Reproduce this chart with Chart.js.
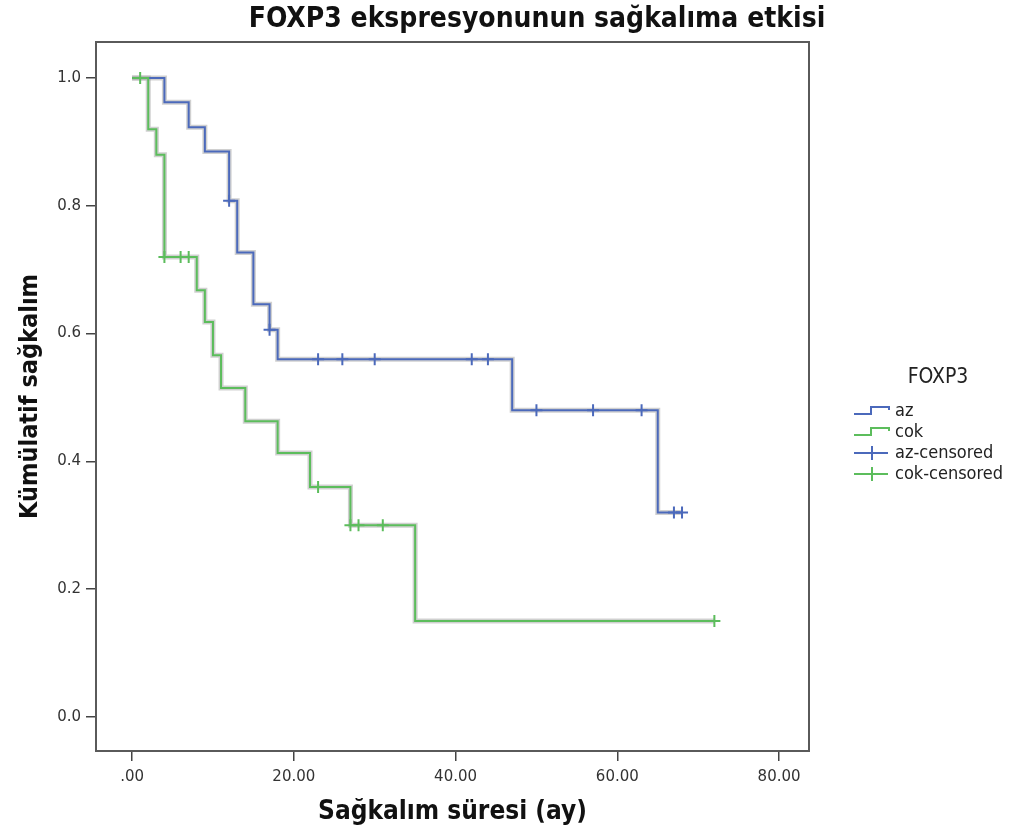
<!DOCTYPE html>
<html lang="tr">
  <head>
    <meta charset="UTF-8" />
    <title>FOXP3 ekspresyonunun sağkalıma etkisi</title>
    <style>
      html,
      body {
        margin: 0;
        padding: 0;
        background: #ffffff;
      }
      #wrap {
        position: relative;
        width: 1025px;
        height: 834px;
      }
    </style>
  </head>
  <body>
    <div id="wrap"><canvas id="kmChart" width="1025" height="834"></canvas></div>

    <script src="https://cdn.jsdelivr.net/npm/chart.js"></script>
    <script>
      // survival steps (time in months, cumulative survival)
      const azTimes = [0, 4, 7, 9, 12, 13, 15, 17, 18, 47, 65, 68];
      const azSurv = [1.0, 0.962, 0.923, 0.885, 0.808, 0.727, 0.646, 0.606, 0.56, 0.48, 0.32, 0.32];
      const cokTimes = [0, 2, 3, 4, 8, 9, 10, 11, 14, 18, 22, 27, 35, 72];
      const cokSurv = [1.0, 0.92, 0.88, 0.72, 0.668, 0.618, 0.566, 0.515, 0.463, 0.413, 0.36, 0.3, 0.15, 0.15];

      // censored observations
      const azCensTimes = [12, 17, 23, 26, 30, 42, 44, 50, 57, 63, 67, 68];
      const azCensSurv = [0.808, 0.606, 0.56, 0.56, 0.56, 0.56, 0.56, 0.48, 0.48, 0.48, 0.32, 0.32];
      const cokCensTimes = [1, 4, 6, 7, 23, 27, 28, 31, 72];
      const cokCensSurv = [1.0, 0.72, 0.72, 0.72, 0.36, 0.3, 0.3, 0.3, 0.15];

      const xTickVals = [0, 20, 40, 60, 80];
      const xTickLabels = [".00", "20.00", "40.00", "60.00", "80.00"];
      const yTickVals = [0, 0.2, 0.4, 0.6, 0.8, 1.0];
      const yTickLabels = ["0.0", "0.2", "0.4", "0.6", "0.8", "1.0"];

      const legendItems = ["az", "cok", "az-censored", "cok-censored"];

      const BLUE = "#4b69bb";
      const GREEN = "#5cbd5c";
      const HALO = "rgba(150, 150, 150, 0.45)";
      const FONT = '"DejaVu Sans", sans-serif';
      const FONT_C = '"DejaVu Sans Condensed", "DejaVu Sans", sans-serif';

      const pts = (xs, ys) => xs.map((x, i) => ({ x: x, y: ys[i] }));

      // frame, title and legend drawn on top of the chart
      const decor = {
        id: "decor",
        afterDraw(chart) {
          const c = chart.ctx;
          const a = chart.chartArea;
          c.save();
          c.strokeStyle = "#5a5a5a";
          c.lineWidth = 2;
          c.strokeRect(a.left, a.top, a.right - a.left, a.bottom - a.top);

          c.fillStyle = "#111";
          c.font = "bold 28px " + FONT_C;
          c.textAlign = "center";
          c.textBaseline = "middle";
          c.fillText("FOXP3 ekspresyonunun sağkalıma etkisi", 537, 20);

          c.font = "21px " + FONT_C;
          c.fillStyle = "#222";
          c.fillText("FOXP3", 938, 378);

          c.textAlign = "left";
          c.font = "18px " + FONT_C;
          const rows = [411, 432, 453, 474];
          const cols = [BLUE, GREEN, BLUE, GREEN];
          legendItems.forEach((txt, i) => {
            const y = rows[i];
            c.strokeStyle = cols[i];
            c.lineWidth = 2;
            c.beginPath();
            if (i < 2) {
              c.moveTo(854, y + 3);
              c.lineTo(871, y + 3);
              c.lineTo(871, y - 4);
              c.lineTo(889, y - 4);
              c.lineTo(889, y - 1);
            } else {
              c.moveTo(854, y);
              c.lineTo(888, y);
              c.moveTo(872, y - 7);
              c.lineTo(872, y + 7);
            }
            c.stroke();
            c.fillStyle = "#222";
            c.fillText(txt, 895, y);
          });
          c.restore();
        },
      };

      const ctx = document.getElementById("kmChart").getContext("2d");

      new Chart(ctx, {
        type: "line",
        data: {
          datasets: [
            {
              label: "cok-censored",
              data: pts(cokCensTimes, cokCensSurv),
              showLine: false,
              pointStyle: "cross",
              pointRadius: 6,
              pointBorderWidth: 2,
              pointBorderColor: GREEN,
              order: 0,
            },
            {
              label: "az-censored",
              data: pts(azCensTimes, azCensSurv),
              showLine: false,
              pointStyle: "cross",
              pointRadius: 6,
              pointBorderWidth: 2,
              pointBorderColor: BLUE,
              order: 1,
            },
            {
              label: "cok",
              data: pts(cokTimes, cokSurv),
              stepped: "before",
              borderColor: GREEN,
              borderWidth: 2,
              pointRadius: 0,
              fill: false,
              order: 2,
            },
            {
              label: "az",
              data: pts(azTimes, azSurv),
              stepped: "before",
              borderColor: BLUE,
              borderWidth: 2,
              pointRadius: 0,
              fill: false,
              order: 3,
            },
            {
              label: "cok-halo",
              data: pts(cokTimes, cokSurv),
              stepped: "before",
              borderColor: HALO,
              borderWidth: 5,
              pointRadius: 0,
              fill: false,
              order: 4,
            },
            {
              label: "az-halo",
              data: pts(azTimes, azSurv),
              stepped: "before",
              borderColor: HALO,
              borderWidth: 5,
              pointRadius: 0,
              fill: false,
              order: 5,
            },
          ],
        },
        options: {
          responsive: false,
          animation: false,
          layout: { padding: { top: 42, right: 216, left: 0, bottom: 0 } },
          plugins: {
            legend: { display: false },
            title: { display: false },
            tooltip: { enabled: false },
          },
          scales: {
            x: {
              type: "linear",
              min: -4.46,
              max: 83.7,
              afterFit: (s) => {
                s.height = 83;
              },
              afterBuildTicks: (s) => {
                s.ticks = xTickVals.map((v) => ({ value: v }));
              },
              ticks: {
                autoSkip: false,
                maxRotation: 0,
                padding: 7,
                color: "#333",
                font: { family: FONT, size: 15 },
                callback: (v) => xTickLabels[xTickVals.indexOf(v)],
              },
              grid: {
                drawOnChartArea: false,
                tickLength: 10,
                color: "#444",
                lineWidth: 1.5,
              },
              border: { color: "#5a5a5a", width: 2 },
              title: {
                display: true,
                text: "Sağkalım süresi (ay)",
                color: "#111",
                font: { family: FONT_C, size: 26, weight: "bold" },
                padding: { top: 0, bottom: 6 },
              },
            },
            y: {
              min: -0.0533,
              max: 1.0564,
              afterFit: (s) => {
                s.width = 96;
              },
              afterBuildTicks: (s) => {
                s.ticks = yTickVals.map((v) => ({ value: v }));
              },
              ticks: {
                autoSkip: false,
                padding: 5,
                color: "#333",
                font: { family: FONT, size: 15 },
                callback: (v) => yTickLabels[yTickVals.findIndex((t) => Math.abs(t - v) < 1e-6)],
              },
              grid: {
                drawOnChartArea: false,
                tickLength: 10,
                color: "#444",
                lineWidth: 1.5,
              },
              border: { color: "#5a5a5a", width: 2 },
              title: {
                display: true,
                text: "Kümülatif sağkalım",
                color: "#111",
                font: { family: FONT_C, size: 25, weight: "bold" },
                padding: { top: 15, bottom: 0 },
              },
            },
          },
        },
        plugins: [decor],
      });
    </script>
  </body>
</html>
